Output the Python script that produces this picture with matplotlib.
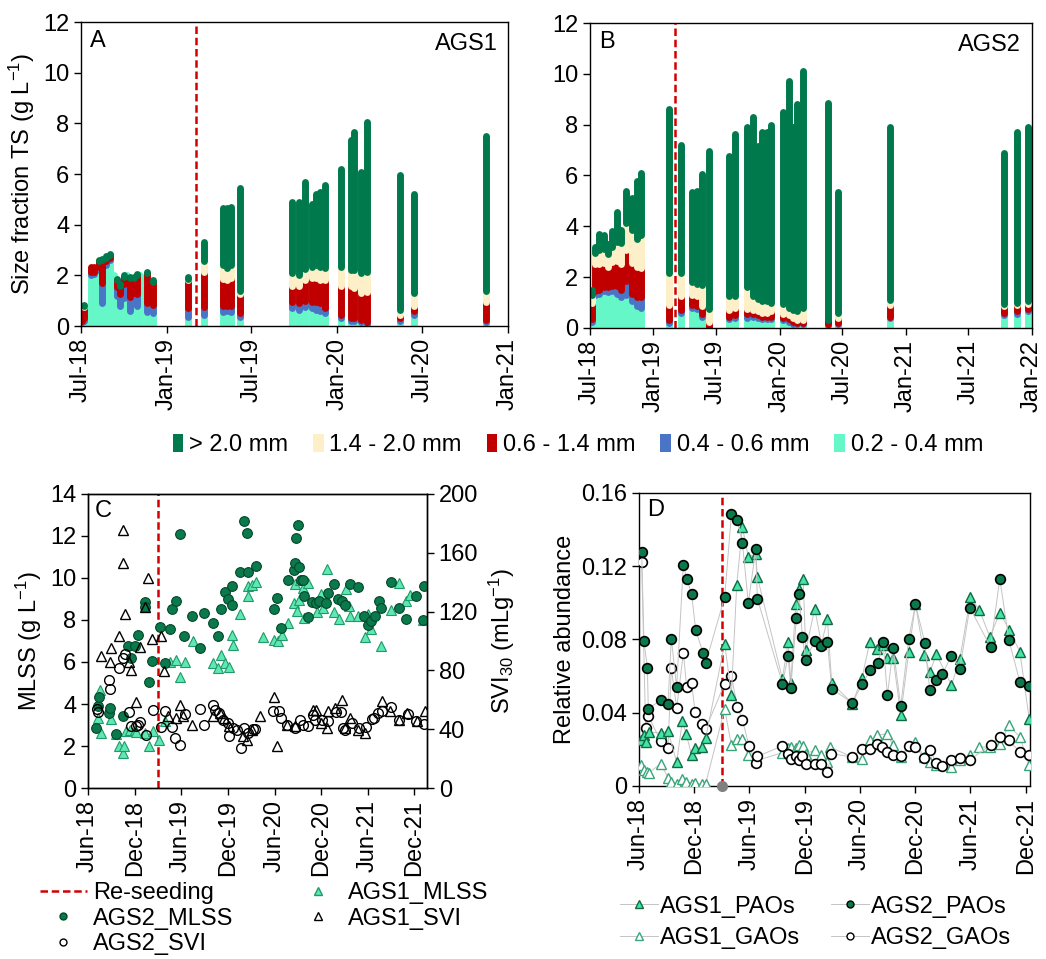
import numpy as np
import pandas as pd
import matplotlib
matplotlib.use("Agg")
import matplotlib.pyplot as plt
import matplotlib.dates as mdates
from matplotlib.lines import Line2D
from matplotlib.patches import Patch

plt.rcParams['font.family'] = ['Liberation Sans', 'DejaVu Sans']
plt.rcParams['mathtext.default'] = 'regular'
FS = 17
plt.rcParams['font.size'] = FS

# Farben
COL_GT20 = '#00794c'
COL_1420 = '#fdf0c8'
COL_0614 = '#c00000'
COL_0406 = '#4a74c6'
COL_0204 = '#66f7c9'
COL_RESEED = '#d40000'
RESEED = '2019-03-04'

size_labels = ['> 2.0 mm', '1.4 - 2.0 mm', '0.6 - 1.4 mm', '0.4 - 0.6 mm', '0.2 - 0.4 mm']

# Panel A: AGS1 Korngrößenfraktionen (g/L)
a_dates = ['2018-07-03', '2018-07-08', '2018-07-22', '2018-07-30', '2018-08-08', '2018-08-16',
           '2018-08-24', '2018-09-01', '2018-09-09', '2018-09-16', '2018-09-23', '2018-10-01',
           '2018-10-08', '2018-10-15', '2018-10-22', '2018-10-29', '2018-11-05', '2018-11-20',
           '2018-12-02', '2019-02-15', '2019-03-21', '2019-05-01', '2019-05-10', '2019-05-19',
           '2019-06-07', '2019-09-26', '2019-10-12', '2019-10-23', '2019-11-08', '2019-11-17',
           '2019-11-25', '2019-12-05', '2020-01-10', '2020-01-30', '2020-02-06', '2020-02-20',
           '2020-03-05', '2020-05-14', '2020-06-14', '2020-11-15']
a_0204 = [0.15, 0.20, 2.0, 2.05, 2.2, 0.90, 2.4, 2.6, 2.0, 1.2, 0.80, 1.1, 2.0, 0.60, 0.90, 0.80,
          2.0, 0.55, 0.50, 0.35, 0.45, 0.55, 0.60, 0.55, 0.35, 0.70, 0.65, 0.75, 0.70, 0.65,
          0.60, 0.50, 0.30, 0.20, 0.20, 0.15, 0.10, 0.20, 0.45, 0.15]
a_0406 = [0.05, 0.10, 0.15, 0.10, 0.15, 0.80, 0.15, 0.10, 0.0, 0.35, 0.45, 0.55, 0.0, 0.55, 0.40,
          0.45, 0.0, 0.35, 0.35, 0.35, 0.30, 0.25, 0.20, 0.25, 0.15, 0.25, 0.25, 0.25, 0.25, 0.30,
          0.30, 0.20, 0.15, 0.10, 0.10, 0.10, 0.05, 0.10, 0.15, 0.10]
a_0614 = [0.30, 0.45, 0.20, 0.20, 0.20, 0.90, 0.15, 0.10, 0.0, 0.25, 0.35, 0.30, 0.0, 0.75, 0.60,
          0.75, 0.0, 1.2, 0.90, 1.1, 1.4, 1.05, 1.0, 1.1, 0.75, 0.65, 0.70, 0.80, 0.95, 0.95,
          0.90, 1.1, 1.15, 1.3, 1.2, 1.05, 1.2, 0.15, 0.20, 0.70]
a_1420 = [0.0, 0.05, 0.0, 0.0, 0.0, 0.0, 0.0, 0.0, 0.0, 0.0, 0.0, 0.0, 0.0, 0.0, 0.0, 0.0,
          0.0, 0.0, 0.0, 0.05, 0.40, 0.55, 0.50, 0.50, 0.15, 0.50, 0.40, 0.45, 0.45, 0.50,
          0.55, 0.50, 0.75, 0.60, 0.70, 0.80, 0.80, 0.20, 0.50, 0.45]
a_gt20 = [0.0, 0.05, 0.0, 0.0, 0.05, 0.05, 0.05, 0.05, 0.0, 0.05, 0.05, 0.05, 0.0, 0.05, 0.05,
          0.05, 0.0, 0.05, 0.05, 0.10, 0.75, 2.25, 2.35, 2.30, 4.05, 2.80, 2.90, 3.45, 2.45, 2.80,
          2.95, 3.25, 3.85, 5.15, 5.45, 4.00, 5.90, 5.30, 3.90, 6.10]

# Panel B: AGS2 Korngrößenfraktionen (g/L)
b_dates = ['2018-07-06', '2018-07-16', '2018-07-28', '2018-08-10', '2018-08-21', '2018-09-03',
           '2018-09-17', '2018-09-29', '2018-10-14', '2018-10-30', '2018-11-14', '2018-11-27',
           '2019-02-16', '2019-03-22', '2019-04-22', '2019-05-07', '2019-05-21', '2019-06-10',
           '2019-08-07', '2019-08-26', '2019-09-29', '2019-10-17', '2019-10-30', '2019-11-12',
           '2019-11-26', '2019-12-08', '2020-01-11', '2020-01-28', '2020-02-10', '2020-02-21',
           '2020-03-10', '2020-05-19', '2020-06-17', '2020-11-17', '2021-10-12', '2021-11-19',
           '2021-12-21']
b_0204 = [0.25, 1.30, 1.35, 1.45, 1.40, 1.45, 1.35, 1.20, 1.30, 1.05, 0.85, 0.80, 0.20, 0.60,
          0.80, 0.75, 0.45, 0.0, 0.35, 0.40, 0.40, 0.45, 0.40, 0.35, 0.35, 0.35, 0.30, 0.25,
          0.15, 0.15, 0.15, 0.10, 0.15, 0.40, 0.50, 0.55, 0.65]
b_0406 = [0.10, 0.15, 0.15, 0.15, 0.20, 0.20, 0.30, 0.30, 0.55, 0.30, 0.35, 0.40, 0.10, 0.10,
          0.10, 0.10, 0.10, 0.0, 0.10, 0.10, 0.15, 0.10, 0.10, 0.10, 0.10, 0.10, 0.10, 0.10,
          0.10, 0.05, 0.05, 0.05, 0.05, 0.05, 0.10, 0.10, 0.10]
b_0614 = [0.65, 1.05, 1.00, 0.95, 0.80, 0.95, 1.00, 1.00, 1.20, 1.20, 1.20, 1.15, 0.60, 0.55,
          0.40, 0.40, 0.30, 0.25, 0.25, 0.30, 0.20, 0.15, 0.15, 0.15, 0.15, 0.20, 0.15, 0.15,
          0.15, 0.10, 0.10, 0.15, 0.20, 0.45, 0.25, 0.25, 0.20]
b_1420 = [0.30, 0.45, 0.55, 0.55, 0.50, 0.60, 0.75, 0.85, 1.10, 1.30, 1.10, 1.30, 1.25, 0.90,
          0.50, 0.50, 0.85, 0.50, 0.55, 0.45, 0.85, 0.55, 0.50, 0.45, 0.45, 0.35, 0.40, 0.30,
          0.30, 0.35, 0.50, 0.0, 0.20, 0.20, 0.10, 0.10, 0.10]
b_gt20 = [0.20, 0.25, 0.65, 0.55, 0.40, 0.60, 1.15, 0.50, 1.25, 1.25, 2.30, 2.45, 6.45, 5.05,
          3.55, 3.65, 4.35, 6.20, 5.50, 6.40, 6.30, 7.05, 6.00, 6.65, 6.65, 7.00, 7.55, 8.90,
          7.20, 8.15, 9.30, 8.55, 4.75, 6.80, 5.95, 6.70, 6.85]

# Panel C: Monate seit Jun-2018, MLSS (g/L) und SVI30 (mL/g)
c_mlss2_m = [1.0, 1.3, 1.4, 2.7, 2.8, 3.6, 4.5, 5.1, 5.6, 6.1, 6.5, 7.3, 7.4, 7.8, 8.2, 9.3, 9.9,
             10.6, 10.8, 11.3, 11.8, 12.4, 13.4, 14.4, 14.9, 16.1, 16.7, 17.1, 17.7, 18.0, 18.5,
             18.6, 19.6, 20.1, 20.5, 20.6, 21.6, 24.0, 24.4, 24.9, 25.8, 26.5, 26.6, 26.8, 27.0,
             27.2, 27.4, 27.7, 27.8, 28.3, 28.9, 29.4, 29.8, 30.6, 30.9, 31.7, 32.2, 32.7, 33.1,
             33.7, 34.7, 35.6, 36.1, 36.4, 36.9, 37.5, 37.7, 39.0, 40.0, 41.0, 42.2, 43.1, 43.2]
c_mlss2 = [2.85, 3.9, 4.35, 3.55, 3.8, 2.55, 3.45, 6.75, 6.2, 6.75, 7.3, 8.85, 8.6, 5.05, 6.05,
           7.65, 5.95, 7.55, 8.5, 8.9, 12.1, 7.25, 8.2, 6.65, 8.35, 7.85, 7.25, 8.5, 9.35, 9.0,
           9.6, 8.7, 10.3, 12.7, 12.15, 10.3, 10.55, 8.5, 9.05, 7.6, 9.9, 10.4, 10.7, 11.9, 12.5,
           10.5, 9.9, 9.9, 9.15, 8.15, 8.85, 8.8, 8.9, 8.8, 9.3, 9.7, 9.0, 8.9, 8.7, 9.7, 9.55,
           8.2, 7.75, 7.95, 8.2, 8.9, 8.55, 9.8, 8.55, 8.05, 9.15, 8.0, 9.6]
c_mlss1_m = [1.5, 1.29, 1.71, 2.91, 3.64, 3.94, 4.5, 4.59, 4.93, 5.36, 6.0, 6.2, 7.29, 7.8, 8.36,
             9.2, 9.86, 10.5, 11.27, 11.87, 12.5, 13.5, 16.07, 16.7, 17.1, 17.6, 18.13, 18.56,
             18.65, 19.6, 20.57, 20.66, 21.09, 21.65, 22.5, 24.0, 24.43, 24.95, 25.8, 26.53,
             26.66, 26.96, 27.2, 27.3, 27.65, 27.86, 28.38, 29.45, 29.96, 30.3, 30.73, 31.72,
             32.36, 33.18, 33.65, 33.73, 34.8, 35.66, 36.0, 36.5, 37.7, 38.96, 40.03, 41.0, 41.5,
             43.16]
c_mlss1 = [4.68, 3.33, 2.6, 3.28, 2.55, 1.98, 1.67, 1.98, 2.7, 2.75, 2.75, 2.65, 2.6, 2.0, 2.7,
           2.27, 3.17, 6.0, 6.1, 5.3, 6.0, 7.0, 5.97, 5.7, 6.35, 5.97, 5.74, 7.3, 6.8, 8.3, 9.6,
           9.15, 9.67, 9.83, 7.2, 7.05, 6.98, 7.3, 7.85, 8.8, 9.7, 8.45, 8.93, 9.9, 9.5, 8.1,
           9.75, 8.37, 9.25, 8.56, 10.45, 8.4, 8.04, 9.47, 8.67, 8.2, 8.17, 7.2, 8.3, 7.56, 6.77,
           8.48, 9.78, 8.9, 9.2, 8.0]
c_svi2_m = [1.16, 1.29, 2.7, 2.87, 3.99, 4.5, 4.71, 5.27, 5.57, 6.13, 6.43, 6.64, 7.42, 8.36,
            9.34, 9.86, 10.84, 11.23, 11.87, 12.43, 14.36, 15.0, 16.16, 16.29, 16.85, 17.36,
            18.05, 18.13, 18.73, 19.25, 19.76, 20.1, 20.66, 21.22, 21.52, 23.87, 24.6, 24.86,
            25.67, 26.66, 27.3, 27.65, 28.38, 28.93, 29.23, 30.09, 30.95, 31.93, 32.58, 32.88,
            33.09, 33.95, 34.89, 35.75, 36.52, 36.86, 37.29, 37.81, 38.96, 40.03, 41.15, 42.22,
            43.29]
c_svi2 = [53.9, 51.4, 73.2, 67.3, 81.5, 88.3, 91, 51.6, 41.9, 41.9, 43, 44.8, 36.2, 53.2, 41.4,
          52.1, 41.2, 34, 29.4, 50.5, 53.9, 42.8, 56.6, 53.2, 51, 46.4, 44.2, 35.1, 40.8, 39.6,
          27.2, 40.8, 37.4, 40, 40, 52.5, 52.1, 47.6, 43, 40.8, 46, 43, 41.9, 49.8, 46.4, 46.4,
          45.3, 51.4, 51.4, 40.8, 39.6, 44.2, 40.8, 41.4, 46.9, 47.6, 51, 52.1, 55, 46.4, 50.5,
          45.3, 43.5]
c_svi1_m = [1.63, 2.79, 3.0, 3.94, 4.5, 4.55, 4.71, 5.27, 5.57, 6.2, 6.64, 7.29, 7.72, 8.23,
            9.34, 9.77, 10.29, 11.36, 11.79, 12.22, 13.42, 16.07, 17.06, 17.49, 18.13, 20.02,
            20.45, 21.17, 22.16, 23.96, 24.39, 25.67, 26.66, 29.02, 29.36, 29.96, 30.82, 30.86,
            31.8, 32.75, 33.09, 33.73, 34.72, 35.66, 37.81, 38.88, 40.08, 41.02, 42.3, 43.38]
c_svi1 = [89.5, 85.6, 95.1, 103.7, 175.5, 152.9, 118.2, 85.6, 80, 58.2, 95.6, 123, 142.7, 101.2,
          103.5, 79.7, 49.2, 47.6, 56.6, 48.7, 42.6, 48.7, 51, 47.6, 42, 35.1, 32.8, 39.2, 49,
          61.8, 28.3, 43, 41.9, 53.2, 52.8, 44.2, 40.8, 52.1, 54.4, 59.6, 40.8, 47.6, 39.6,
          37.4, 59.3, 52.1, 46.4, 51, 45.3, 52.1]

# Panel D: Monate seit Jun-2018, relative Abundanz
d_pao1_m = [0.18, 0.54, 0.8, 1.09, 2.36, 3.15, 4.09, 4.71, 5.14, 5.72, 6.09, 6.88, 7.25, 9.31,
            10.04, 10.62, 11.23, 11.88, 12.68, 12.86, 15.58, 16.2, 16.49, 17.03, 17.39, 17.83,
            18.12, 19.09, 19.82, 20.47, 20.94, 23.19, 24.24, 25.07, 25.91, 26.52, 26.99, 27.61,
            28.44, 29.31, 30.04, 30.98, 31.59, 32.32, 33.95, 34.86, 36.01, 36.96, 38.12, 39.2,
            40.22, 41.38, 42.39]
d_pao1 = [0.0249, 0.0277, 0.024, 0.0295, 0.0289, 0.03, 0.0131, 0.0353, 0.0282, 0.0167, 0.0209,
          0.0213, 0.0264, 0.0777, 0.0499, 0.1099, 0.1414, 0.125, 0.1269, 0.1141, 0.0586, 0.0786,
          0.0564, 0.0996, 0.1078, 0.1132, 0.0741, 0.0968, 0.0777, 0.091, 0.0562, 0.045, 0.0592,
          0.0786, 0.0748, 0.0768, 0.0699, 0.0699, 0.039, 0.0732, 0.0992, 0.0714, 0.0622, 0.0719,
          0.055, 0.0695, 0.1032, 0.0963, 0.0814, 0.0945, 0.0854, 0.0732, 0.0368]
d_gao1_m = [0.18, 0.54, 0.91, 1.09, 2.36, 3.15, 3.51, 4.09, 4.71, 5.14, 5.72, 6.09, 6.88, 7.25,
            9.31, 10.04, 10.69, 11.23, 11.88, 12.68, 15.58, 16.2, 16.49, 17.1, 17.39, 17.83,
            18.12, 19.09, 19.82, 20.47, 20.72, 23.19, 24.24, 25.07, 25.91, 26.96, 27.61, 28.44,
            30.04, 30.98, 31.59, 32.32, 33.95, 34.86, 36.01, 36.96, 38.12, 39.2, 40.18, 41.38,
            42.39]
d_gao1 = [0.0113, 0.0086, 0.0076, 0.0073, 0.0122, 0.0046, 0.0022, 0.0013, 0.0036, 0.0022,
          0.0013, 0.0016, 0.0009, 0.0013, 0.0422, 0.0222, 0.0258, 0.0258, 0.0167, 0.0137,
          0.0182, 0.0207, 0.0213, 0.0209, 0.0222, 0.0218, 0.0177, 0.0195, 0.0167, 0.0131,
          0.0213, 0.0158, 0.0149, 0.0249, 0.0277, 0.0286, 0.0222, 0.0158, 0.024, 0.0158, 0.0131,
          0.0113, 0.0104, 0.014, 0.0167, 0.0213, 0.0213, 0.0228, 0.0331, 0.0268, 0.0113]
d_pao2_m = [0.29, 0.54, 0.91, 1.01, 2.36, 3.15, 3.51, 4.09, 4.82, 5.18, 5.72, 6.16, 6.96, 7.25,
            9.31, 10.04, 10.69, 11.23, 11.88, 12.68, 12.86, 15.58, 16.2, 16.49, 17.1, 17.39,
            17.75, 18.12, 19.09, 19.82, 20.47, 20.94, 23.19, 24.24, 25.14, 25.98, 26.52, 26.99,
            27.61, 28.44, 29.31, 30.04, 31.05, 31.59, 32.32, 32.97, 33.95, 34.86, 35.94, 38.19,
            39.2, 40.18, 41.38, 42.39]
d_pao2 = [0.1278, 0.0789, 0.0646, 0.0422, 0.0468, 0.045, 0.0805, 0.0541, 0.1209, 0.1132, 0.1047,
          0.085, 0.0728, 0.0672, 0.1032, 0.1483, 0.1451, 0.1329, 0.0999, 0.1292, 0.1023, 0.0559,
          0.071, 0.0535, 0.0917, 0.105, 0.0814, 0.069, 0.0792, 0.0766, 0.0786, 0.0531, 0.0453,
          0.0559, 0.0632, 0.0672, 0.0786, 0.0495, 0.0754, 0.0435, 0.0805, 0.0992, 0.0783, 0.0522,
          0.0581, 0.0613, 0.071, 0.0641, 0.0974, 0.0759, 0.1132, 0.0799, 0.0568, 0.0544]
d_gao2_m = [0.29, 0.72, 1.01, 2.36, 3.15, 3.51, 4.09, 4.82, 5.18, 5.72, 6.09, 6.88, 7.25, 9.31,
            10.04, 10.69, 11.23, 11.96, 12.68, 12.86, 15.58, 16.2, 16.49, 17.1, 17.39, 17.75,
            18.12, 19.09, 19.82, 20.47, 20.9, 23.19, 24.24, 25.07, 25.91, 26.45, 26.96, 27.61,
            28.44, 29.31, 30.04, 30.98, 31.59, 32.32, 32.97, 33.95, 34.86, 36.01, 38.19, 39.2,
            40.18, 41.38, 42.39]
d_gao2 = [0.1223, 0.0319, 0.0382, 0.0246, 0.0209, 0.0644, 0.0426, 0.0726, 0.0541, 0.0562,
          0.0404, 0.034, 0.0313, 0.0559, 0.0601, 0.0431, 0.0362, 0.0218, 0.0127, 0.0162, 0.0218,
          0.0177, 0.0146, 0.0164, 0.014, 0.0162, 0.0122, 0.0122, 0.0122, 0.0076, 0.0177, 0.0158,
          0.0204, 0.0204, 0.0231, 0.0213, 0.0186, 0.0171, 0.0164, 0.0217, 0.0213, 0.0153,
          0.0195, 0.0126, 0.0111, 0.0144, 0.0153, 0.0144, 0.0226, 0.0268, 0.0249, 0.0186,
          0.0167]


def months_to_dates(m):
    # Monate seit 1. Juni 2018 -> Datum
    return pd.Timestamp('2018-06-01') + pd.to_timedelta(np.asarray(m) * 30.4375, unit='D')


def style_axis(ax):
    for s in ax.spines.values():
        s.set_linewidth(1.0)
    ax.tick_params(direction='out', length=5, width=1, labelsize=FS)


def stacked_columns(ax, dates, parts, lw):
    # dicke Linien mit runden Enden, wie im Original
    x = pd.to_datetime(dates)
    bottom = np.zeros(len(x))
    for vals, col in zip(parts, [COL_0204, COL_0406, COL_0614, COL_1420, COL_GT20]):
        vals = np.asarray(vals)
        keep = vals > 0
        ax.vlines(x[keep], bottom[keep], (bottom + vals)[keep], colors=col,
                  linewidth=lw, capstyle='round')
        bottom += vals


fig = plt.figure(figsize=(10.46, 9.59), dpi=100)
axA = fig.add_axes([0.0774, 0.660, 0.4083, 0.317])
axB = fig.add_axes([0.564, 0.658, 0.4226, 0.318])
axC = fig.add_axes([0.0841, 0.1783, 0.324, 0.3066])
axD = fig.add_axes([0.6109, 0.1804, 0.3738, 0.3056])

# Panels A und B
for ax, dates, parts, xend, letter, name in [
        (axA, a_dates, [a_0204, a_0406, a_0614, a_1420, a_gt20], '2021-01-01', 'A', 'AGS1'),
        (axB, b_dates, [b_0204, b_0406, b_0614, b_1420, b_gt20], '2022-01-01', 'B', 'AGS2')]:
    stacked_columns(ax, dates, parts, 5.0)
    ax.axvline(pd.Timestamp(RESEED), color=COL_RESEED, ls='--', lw=1.8, dashes=(3, 1.5))
    ax.set_xlim(pd.Timestamp('2018-07-01'), pd.Timestamp(xend))
    ax.set_ylim(0, 12)
    ax.set_yticks(range(0, 13, 2))
    ax.xaxis.set_major_locator(mdates.MonthLocator(bymonth=[1, 7]))
    ax.xaxis.set_major_formatter(mdates.DateFormatter('%b-%y'))
    ax.tick_params(axis='x', labelrotation=90)
    style_axis(ax)
    ax.text(0.02, 0.975, letter, transform=ax.transAxes, ha='left', va='top', fontsize=FS)
    ax.text(0.975, 0.965, name, transform=ax.transAxes, ha='right', va='top', fontsize=FS)
axA.set_ylabel('Size fraction TS (g L$^{-1}$)', fontsize=FS)

size_handles = [Patch(facecolor=c, edgecolor='none') for c in
                [COL_GT20, COL_1420, COL_0614, COL_0406, COL_0204]]
fig.legend(size_handles, size_labels, loc='center left', bbox_to_anchor=(0.165, 0.536), ncol=5,
           frameon=False, fontsize=FS, handlelength=0.45, handleheight=0.8,
           handletextpad=0.25, columnspacing=1.05, borderpad=0, borderaxespad=0)

# Panel C
MS = 7.5
axC.axvline(pd.Timestamp(RESEED), color=COL_RESEED, ls='--', lw=1.8, dashes=(3, 1.5), zorder=1)
axC.plot(months_to_dates(c_mlss1_m), c_mlss1, ls='none', marker='^', ms=MS,
         mfc='#5fe8b4', mec='#1f9a68', mew=0.8, zorder=3)
axC.plot(months_to_dates(c_mlss2_m), c_mlss2, ls='none', marker='o', ms=MS - 0.5,
         mfc='#0a7a4c', mec='#03472b', mew=0.8, zorder=4)
axC.set_ylim(0, 14)
axC.set_yticks(range(0, 15, 2))
axC.set_ylabel('MLSS (g L$^{-1}$)', fontsize=FS, labelpad=4)
axC2 = axC.twinx()
axC2.plot(months_to_dates(c_svi2_m), c_svi2, ls='none', marker='o', ms=MS - 0.5,
          mfc='none', mec='black', mew=1.0)
axC2.plot(months_to_dates(c_svi1_m), c_svi1, ls='none', marker='^', ms=MS,
          mfc='none', mec='black', mew=1.0)
axC2.set_ylim(0, 200)
axC2.set_yticks(range(0, 201, 40))
axC2.set_ylabel('SVI$_{30}$ (mLg$^{-1}$)', fontsize=FS, labelpad=6)
for ax in (axC, axC2):
    ax.set_xlim(pd.Timestamp('2018-06-01'), pd.Timestamp('2022-01-19'))
    style_axis(ax)
axC.xaxis.set_major_locator(mdates.MonthLocator(bymonth=[6, 12]))
axC.xaxis.set_major_formatter(mdates.DateFormatter('%b-%y'))
axC.tick_params(axis='x', labelrotation=90)
axC.text(0.02, 0.98, 'C', transform=axC.transAxes, ha='left', va='top', fontsize=FS)

c_handles = [Line2D([], [], color=COL_RESEED, ls='--', lw=1.8, dashes=(3, 1.5)),
             Line2D([], [], ls='none', marker='o', ms=5, mfc='#0a7a4c', mec='#03472b'),
             Line2D([], [], ls='none', marker='o', ms=5, mfc='none', mec='black'),
             Line2D([], [], ls='none', marker='^', ms=5.5, mfc='#5fe8b4', mec='#1f9a68'),
             Line2D([], [], ls='none', marker='^', ms=5.5, mfc='none', mec='black')]
c_labels = ['Re-seeding', 'AGS2_MLSS', 'AGS2_SVI', 'AGS1_MLSS', 'AGS1_SVI']
fig.legend(c_handles, c_labels, loc='upper left', bbox_to_anchor=(0.038, 0.080), ncol=2,
           frameon=False, fontsize=FS, handlelength=2.0, handletextpad=0.25,
           columnspacing=2.6, labelspacing=0.14, borderpad=0, borderaxespad=0)

# Panel D
LINE_GREY = '#c4c4c4'
axD.axvline(pd.Timestamp(RESEED), color=COL_RESEED, ls='--', lw=1.8, dashes=(3, 1.5), zorder=1)
d_styles = [
    (d_gao1_m, d_gao1, dict(marker='^', mfc='white', mec='#3aa57a', mew=1.0)),
    (d_gao2_m, d_gao2, dict(marker='o', mfc='white', mec='black', mew=1.2)),
    (d_pao1_m, d_pao1, dict(marker='^', mfc='#45e3a4', mec='#0f6b45', mew=1.0)),
    (d_pao2_m, d_pao2, dict(marker='o', mfc='#0a7a4c', mec='black', mew=1.2)),
]
for m, v, st in d_styles:
    axD.plot(months_to_dates(m), v, color=LINE_GREY, lw=0.7, ms=7, zorder=3, **st)
axD.plot([pd.Timestamp(RESEED)], [0], ls='none', marker='o', ms=7, color='#808080',
         clip_on=False, zorder=5)
axD.set_xlim(pd.Timestamp('2018-06-01'), pd.Timestamp('2021-12-15'))
axD.set_ylim(0, 0.16)
axD.set_yticks([0, 0.04, 0.08, 0.12, 0.16])
axD.set_yticklabels(['0', '0.04', '0.08', '0.12', '0.16'])
axD.set_ylabel('Relative abundance', fontsize=FS)
axD.xaxis.set_major_locator(mdates.MonthLocator(bymonth=[6, 12]))
axD.xaxis.set_major_formatter(mdates.DateFormatter('%b-%y'))
axD.tick_params(axis='x', labelrotation=90)
style_axis(axD)
axD.text(0.02, 0.98, 'D', transform=axD.transAxes, ha='left', va='top', fontsize=FS)

d_handles = [Line2D([], [], color=LINE_GREY, lw=0.7, marker='^', ms=5.5, mfc='#45e3a4', mec='#0f6b45'),
             Line2D([], [], color=LINE_GREY, lw=0.7, marker='^', ms=5.5, mfc='white', mec='#3aa57a'),
             Line2D([], [], color=LINE_GREY, lw=0.7, marker='o', ms=5, mfc='#0a7a4c', mec='black'),
             Line2D([], [], color=LINE_GREY, lw=0.7, marker='o', ms=5, mfc='white', mec='black')]
d_labels = ['AGS1_PAOs', 'AGS1_GAOs', 'AGS2_PAOs', 'AGS2_GAOs']
fig.legend(d_handles, d_labels, loc='upper left', bbox_to_anchor=(0.593, 0.066), ncol=2,
           frameon=False, fontsize=FS, handlelength=1.6, handletextpad=0.1,
           columnspacing=1.3, labelspacing=0.4, borderpad=0, borderaxespad=0)

fig.savefig('out.png', dpi=100)
